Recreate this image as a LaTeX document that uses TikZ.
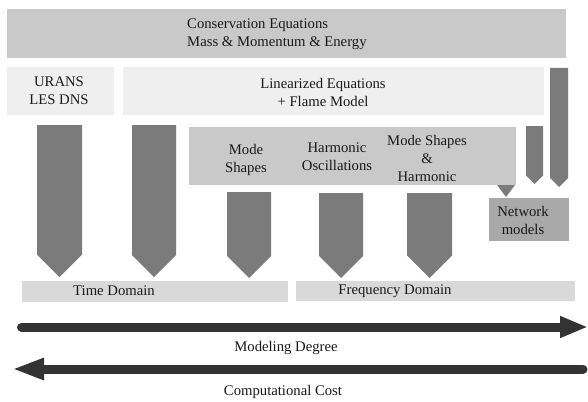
\documentclass[tikz,border=0pt]{standalone}
\usepackage{fontspec}
\setmainfont{Liberation Serif}
\usetikzlibrary{arrows.meta}

\definecolor{bandgrey}{HTML}{C9C9C9}
\definecolor{palegrey}{HTML}{EFEFEF}
\definecolor{domaingrey}{HTML}{D9D9D9}
\definecolor{netgrey}{HTML}{A9A9A9}
\definecolor{arrowgrey}{HTML}{7B7B7B}
\definecolor{axisgrey}{HTML}{333333}

\tikzset{
  caption/.style={font=\fontsize{14.7}{18}\selectfont, inner sep=0pt, align=center, text=black!90},
  blockarrow/.style={fill=arrowgrey, draw=none},
  axisarrow/.style={draw=axisgrey, line width=9pt, line cap=round}
}

% downward block arrow: name, left x, right x, top y, tip y
\newcommand{\downblock}[5]{%
  \fill[blockarrow] (#2,#4) coordinate (#1-nw) -- (#3,#4) -- (#3,#5-0.5*#3+0.5*#2)
    -- ({0.5*#2+0.5*#3},#5) coordinate (#1-tip) -- (#2,#5-0.5*#3+0.5*#2) -- cycle;}

\begin{document}
\begin{tikzpicture}[x=1pt, y=-1pt]
\useasboundingbox (0,0) rectangle (588,401);

% ---- equation levels ----
\fill[bandgrey] (7,9) rectangle (566,58);
\node[caption, align=left, anchor=west] (cons) at (187,34)
  {Conservation Equations\\Mass \& Momentum \& Energy};

\fill[palegrey] (7,67) rectangle (114,115);
\node[caption] (urans) at (59,91) {URANS\\LES DNS};

\fill[palegrey] (123,67) rectangle (544,115);
\node[caption] (lin) at (323,92) {Linearized Equations\\+ Flame Model};

% ---- linearized sub-methods band ----
\fill[bandgrey] (189,127) rectangle (516,185);
\node[caption] (mode) at (246,160) {Mode\\Shapes};
\node[caption] (harm) at (337,157) {Harmonic\\Oscillations};
\node[caption] (modeharm) at (427,158) {Mode Shapes\\\&\\Harmonic};

% ---- network models ----
\fill[netgrey] (489,198) rectangle (569,241);
\node[caption] (net) at (523,220) {Network\\models};
\fill[blockarrow] (497,185) -- (515,185) -- (506,197) -- cycle;

% ---- block arrows ----
\downblock{a1}{37}{82}{125}{277}
\downblock{a2}{132}{176}{125}{277}
\downblock{a3}{227}{271}{192}{278}
\downblock{a4}{319}{363}{193}{278}
\downblock{a5}{407}{452}{193}{278}
\downblock{a6}{526}{543}{126}{184}
\downblock{a7}{550}{568}{68}{187}

% ---- domains ----
\fill[domaingrey] (22,281) rectangle (288,302);
\node[caption] (time) at (114,291) {Time Domain};
\fill[domaingrey] (296,281) rectangle (575,301);
\node[caption] (freq) at (395,291) {Frequency Domain};

% ---- trend axes ----
\coordinate (md-start) at (21.5,327);
\coordinate (md-end) at (588,327);
\draw[axisarrow, -{Triangle[length=28pt,width=20pt]}] (md-start) -- (md-end);
\node[caption] (mdlabel) at (286,348) {Modeling Degree};

\coordinate (cc-start) at (583,369);
\coordinate (cc-end) at (12,369);
\draw[axisarrow, -{Triangle[length=32pt,width=20pt]}] (cc-start) -- (cc-end);
\node[caption] (cclabel) at (283,392) {Computational Cost};
\end{tikzpicture}
\end{document}
